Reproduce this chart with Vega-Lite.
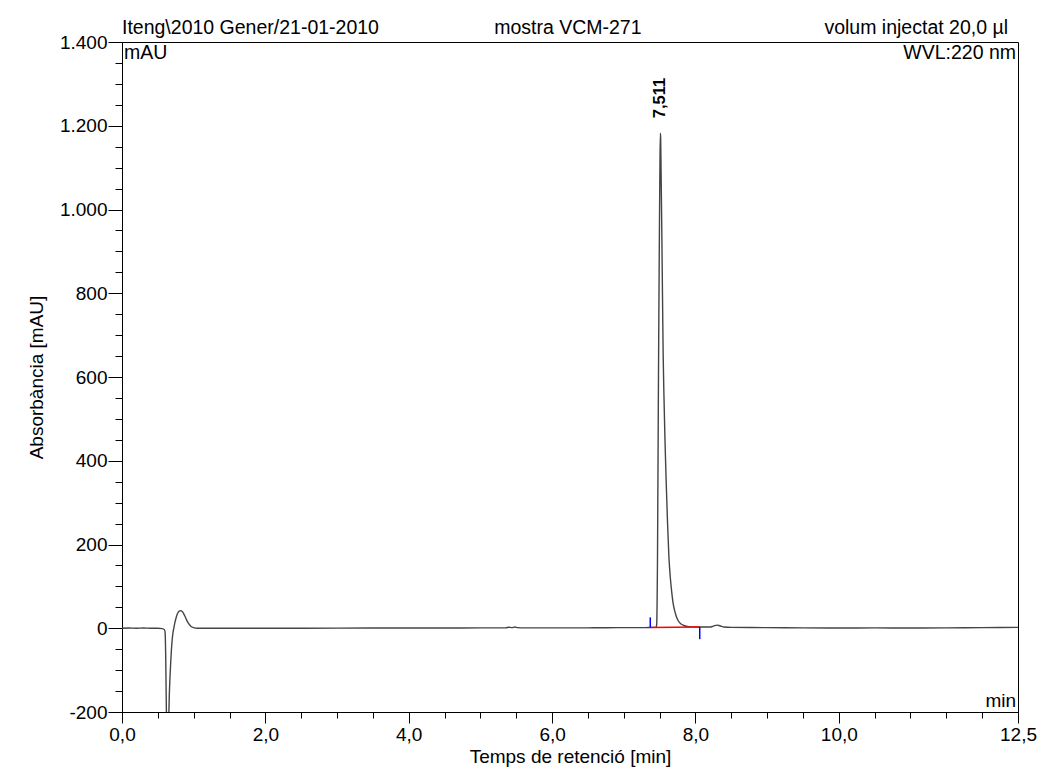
{
  "$schema": "https://vega.github.io/schema/vega-lite/v6.json",
  "autosize": {"type": "none"},
  "width": 896,
  "height": 670,
  "padding": {"left": 122, "top": 42, "right": 23, "bottom": 61},
  "background": "white",
  "config": {
    "view": {"stroke": "#000", "strokeWidth": 1},
    "font": "Liberation Sans",
    "axis": {
      "labelFont": "Liberation Sans", "labelFontSize": 19, "labelColor": "#000",
      "titleFont": "Liberation Sans", "titleFontSize": 19, "titleFontWeight": "normal", "titleColor": "#000",
      "domainColor": "#000", "tickColor": "#000", "grid": false, "labelOverlap": false, "labelFlush": false
    }
  },
  "resolve": {"axis": {"x": "independent", "y": "independent"}},
  "layer": [
    {
      "data": {"values": [
        {"t": 0.00, "v": 0}, {"t": 0.10, "v": 0.5}, {"t": 0.20, "v": 0}, {"t": 0.30, "v": 0.5}, {"t": 0.40, "v": 0},
        {"t": 0.50, "v": 0}, {"t": 0.56, "v": -1}, {"t": 0.59, "v": -3}, {"t": 0.60, "v": -8}, {"t": 0.605, "v": -25},
        {"t": 0.61, "v": -70}, {"t": 0.615, "v": -140}, {"t": 0.62, "v": -210}, {"t": 0.63, "v": -330}, {"t": 0.64, "v": -320},
        {"t": 0.65, "v": -230}, {"t": 0.66, "v": -160}, {"t": 0.67, "v": -115}, {"t": 0.68, "v": -80}, {"t": 0.69, "v": -50},
        {"t": 0.70, "v": -28}, {"t": 0.71, "v": -12}, {"t": 0.725, "v": 2}, {"t": 0.74, "v": 15}, {"t": 0.76, "v": 28},
        {"t": 0.78, "v": 37}, {"t": 0.80, "v": 41}, {"t": 0.82, "v": 42}, {"t": 0.84, "v": 40}, {"t": 0.86, "v": 35},
        {"t": 0.88, "v": 28}, {"t": 0.90, "v": 20}, {"t": 0.93, "v": 11}, {"t": 0.96, "v": 5}, {"t": 1.00, "v": 1.5},
        {"t": 1.05, "v": 0}, {"t": 1.2, "v": 0}, {"t": 1.5, "v": 0}, {"t": 2.0, "v": 0}, {"t": 3.0, "v": 0.3},
        {"t": 4.0, "v": 0.5}, {"t": 4.5, "v": 0.5}, {"t": 5.0, "v": 0.8}, {"t": 5.35, "v": 1}, {"t": 5.40, "v": 2.5},
        {"t": 5.44, "v": 1.5}, {"t": 5.48, "v": 3}, {"t": 5.52, "v": 1.5}, {"t": 5.6, "v": 1}, {"t": 6.0, "v": 1},
        {"t": 6.5, "v": 1}, {"t": 7.0, "v": 1.5}, {"t": 7.3, "v": 1.5}, {"t": 7.40, "v": 2}, {"t": 7.45, "v": 2},
        {"t": 7.46, "v": 10}, {"t": 7.465, "v": 60}, {"t": 7.47, "v": 150}, {"t": 7.475, "v": 300}, {"t": 7.48, "v": 460},
        {"t": 7.485, "v": 620}, {"t": 7.49, "v": 760}, {"t": 7.495, "v": 890}, {"t": 7.50, "v": 1010}, {"t": 7.505, "v": 1110},
        {"t": 7.511, "v": 1182}, {"t": 7.515, "v": 1170}, {"t": 7.52, "v": 1100}, {"t": 7.53, "v": 960}, {"t": 7.54, "v": 800},
        {"t": 7.55, "v": 650}, {"t": 7.56, "v": 560}, {"t": 7.575, "v": 450}, {"t": 7.59, "v": 360}, {"t": 7.61, "v": 255},
        {"t": 7.63, "v": 170}, {"t": 7.65, "v": 120}, {"t": 7.67, "v": 85}, {"t": 7.69, "v": 58}, {"t": 7.71, "v": 42},
        {"t": 7.73, "v": 30}, {"t": 7.76, "v": 18}, {"t": 7.80, "v": 10}, {"t": 7.85, "v": 6}, {"t": 7.90, "v": 4},
        {"t": 8.00, "v": 3}, {"t": 8.10, "v": 3}, {"t": 8.20, "v": 3}, {"t": 8.25, "v": 5}, {"t": 8.30, "v": 7.5},
        {"t": 8.34, "v": 6}, {"t": 8.40, "v": 3}, {"t": 8.5, "v": 2}, {"t": 9.0, "v": 1.5}, {"t": 9.5, "v": 1},
        {"t": 10.0, "v": 0.5}, {"t": 10.5, "v": 0.8}, {"t": 11.0, "v": 0.5}, {"t": 11.5, "v": 1}, {"t": 12.0, "v": 1.5},
        {"t": 12.5, "v": 2}
      ]},
      "mark": {"type": "line", "clip": true, "stroke": "#444", "strokeWidth": 1.4, "interpolate": "monotone"},
      "encoding": {
        "x": {"field": "t", "type": "quantitative", "scale": {"domain": [0, 12.5], "nice": false, "zero": false},
          "axis": {"values": [0, 2, 4, 6, 8, 10, 12.5], "tickSize": 11, "labelPadding": 2,
            "labelExpr": "replace(format(datum.value, '.1f'), '.', ',')",
            "title": "Temps de retenció [min]", "titlePadding": 3, "orient": "bottom"}},
        "y": {"field": "v", "type": "quantitative", "scale": {"domain": [-200, 1400], "nice": false, "zero": false},
          "axis": {"values": [-200, 0, 200, 400, 600, 800, 1000, 1200, 1400], "tickSize": 14, "labelPadding": 1,
            "labelExpr": "(datum.value < 0 ? '-' : '') + replace(format(abs(datum.value), ','), ',', '.')",
            "title": "Absorbància [mAU]", "titleFontSize": 19, "titlePadding": 13, "orient": "left"}}
      }
    },
    {
      "data": {"values": [{"t": 7.37, "v": 2}, {"t": 8.06, "v": 3}]},
      "mark": {"type": "line", "stroke": "#ff0000", "strokeWidth": 1.5},
      "encoding": {
        "x": {"field": "t", "type": "quantitative",
          "axis": {"values": [0, 0.5, 1, 1.5, 2, 2.5, 3, 3.5, 4, 4.5, 5, 5.5, 6, 6.5, 7, 7.5, 8, 8.5, 9, 9.5, 10, 10.5, 11, 11.5, 12, 12.5],
            "tickSize": 6, "labels": false, "domain": false, "title": null, "orient": "bottom"}},
        "y": {"field": "v", "type": "quantitative",
          "axis": {"values": [-200, -150, -100, -50, 0, 50, 100, 150, 200, 250, 300, 350, 400, 450, 500, 550, 600, 650, 700, 750, 800, 850, 900, 950, 1000, 1050, 1100, 1150, 1200, 1250, 1300, 1350, 1400],
            "tickSize": 7, "labels": false, "domain": false, "title": null, "orient": "left"}}
      }
    },
    {
      "data": {"values": [{"t": 7.37, "v": 2, "v2": 26}, {"t": 8.06, "v": 3, "v2": -26}]},
      "mark": {"type": "rule", "stroke": "#0000ff", "strokeWidth": 1.5},
      "encoding": {
        "x": {"field": "t", "type": "quantitative", "axis": null},
        "y": {"field": "v", "type": "quantitative", "axis": null},
        "y2": {"field": "v2"}
      }
    },
    {
      "data": {"values": [{"t": 7.511, "v": 1182, "label": "7,511"}]},
      "mark": {"type": "text", "angle": 270, "align": "left", "baseline": "middle", "dx": 15, "fontSize": 16.5, "fontWeight": "bold", "font": "Liberation Sans", "color": "#000"},
      "encoding": {
        "x": {"field": "t", "type": "quantitative", "axis": null},
        "y": {"field": "v", "type": "quantitative", "axis": null},
        "text": {"field": "label"}
      }
    },
    {
      "data": {"values": [{"t": 0, "v": 1400, "label": "Iteng\\2010 Gener/21-01-2010"}]},
      "mark": {"type": "text", "align": "left", "baseline": "alphabetic", "dy": -8, "fontSize": 19.5, "font": "Liberation Sans", "color": "#000"},
      "encoding": {
        "x": {"field": "t", "type": "quantitative", "axis": null},
        "y": {"field": "v", "type": "quantitative", "axis": null},
        "text": {"field": "label"}
      }
    },
    {
      "data": {"values": [{"t": 6.22, "v": 1400, "label": "mostra VCM-271"}]},
      "mark": {"type": "text", "align": "center", "baseline": "alphabetic", "dy": -8, "fontSize": 19.5, "font": "Liberation Sans", "color": "#000"},
      "encoding": {
        "x": {"field": "t", "type": "quantitative", "axis": null},
        "y": {"field": "v", "type": "quantitative", "axis": null},
        "text": {"field": "label"}
      }
    },
    {
      "data": {"values": [{"t": 12.5, "v": 1400, "label": "volum injectat 20,0 µl"}]},
      "mark": {"type": "text", "align": "right", "baseline": "alphabetic", "dx": -10, "dy": -8, "fontSize": 19.5, "font": "Liberation Sans", "color": "#000"},
      "encoding": {
        "x": {"field": "t", "type": "quantitative", "axis": null},
        "y": {"field": "v", "type": "quantitative", "axis": null},
        "text": {"field": "label"}
      }
    },
    {
      "data": {"values": [{"t": 0, "v": 1400, "label": "mAU"}]},
      "mark": {"type": "text", "align": "left", "baseline": "top", "dx": 2, "dy": 2, "fontSize": 19.5, "font": "Liberation Sans", "color": "#000"},
      "encoding": {
        "x": {"field": "t", "type": "quantitative", "axis": null},
        "y": {"field": "v", "type": "quantitative", "axis": null},
        "text": {"field": "label"}
      }
    },
    {
      "data": {"values": [{"t": 12.5, "v": 1400, "label": "WVL:220 nm"}]},
      "mark": {"type": "text", "align": "right", "baseline": "top", "dx": -2, "dy": 2, "fontSize": 19.5, "font": "Liberation Sans", "color": "#000"},
      "encoding": {
        "x": {"field": "t", "type": "quantitative", "axis": null},
        "y": {"field": "v", "type": "quantitative", "axis": null},
        "text": {"field": "label"}
      }
    },
    {
      "data": {"values": [{"t": 12.5, "v": -200, "label": "min"}]},
      "mark": {"type": "text", "align": "right", "baseline": "bottom", "dx": -2, "dy": -1, "fontSize": 19, "font": "Liberation Sans", "color": "#000"},
      "encoding": {
        "x": {"field": "t", "type": "quantitative", "axis": null},
        "y": {"field": "v", "type": "quantitative", "axis": null},
        "text": {"field": "label"}
      }
    }
  ]
}
